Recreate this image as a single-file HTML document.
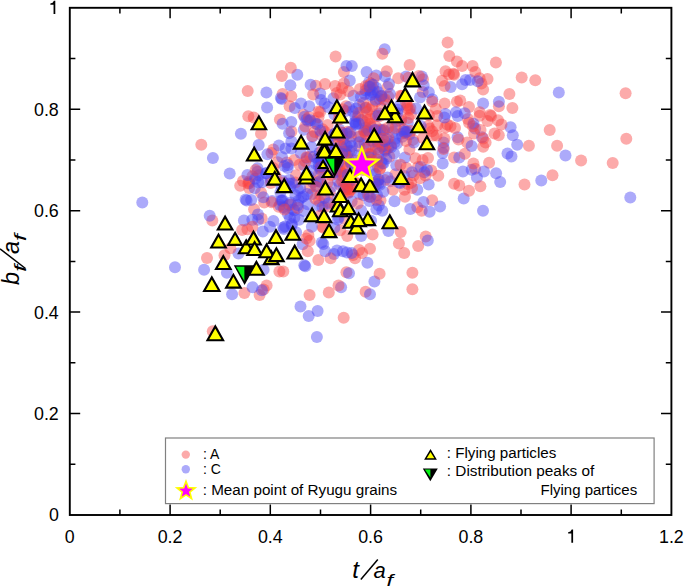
<!DOCTYPE html>
<html><head><meta charset="utf-8"><title>Scatter</title>
<style>html,body{margin:0;padding:0;background:#fff;}svg{display:block;}text{font-family:"Liberation Sans",sans-serif;fill:#000;}</style></head><body>
<svg width="685" height="587" viewBox="0 0 685 587">
<rect width="685" height="587" fill="#fff"/>
<g fill-opacity="0.45">
<circle cx="425.7" cy="236.4" r="6.0" fill="rgb(248,66,66)"/>
<circle cx="365.6" cy="90.4" r="6.0" fill="rgb(70,66,244)"/>
<circle cx="314.6" cy="120.9" r="6.0" fill="rgb(248,66,66)"/>
<circle cx="224.5" cy="255.2" r="6.0" fill="rgb(248,66,66)"/>
<circle cx="308.0" cy="121.0" r="6.0" fill="rgb(70,66,244)"/>
<circle cx="284.3" cy="207.9" r="6.0" fill="rgb(70,66,244)"/>
<circle cx="365.9" cy="107.6" r="6.0" fill="rgb(248,66,66)"/>
<circle cx="345.7" cy="110.9" r="6.0" fill="rgb(70,66,244)"/>
<circle cx="376.3" cy="87.8" r="6.0" fill="rgb(70,66,244)"/>
<circle cx="366.8" cy="130.9" r="6.0" fill="rgb(248,66,66)"/>
<circle cx="400.4" cy="95.7" r="6.0" fill="rgb(248,66,66)"/>
<circle cx="369.0" cy="82.4" r="6.0" fill="rgb(70,66,244)"/>
<circle cx="509.4" cy="93.9" r="6.0" fill="rgb(248,66,66)"/>
<circle cx="475.1" cy="168.8" r="6.0" fill="rgb(248,66,66)"/>
<circle cx="355.1" cy="121.8" r="6.0" fill="rgb(70,66,244)"/>
<circle cx="365.4" cy="107.9" r="6.0" fill="rgb(70,66,244)"/>
<circle cx="379.5" cy="98.9" r="6.0" fill="rgb(70,66,244)"/>
<circle cx="349.2" cy="151.0" r="6.0" fill="rgb(248,66,66)"/>
<circle cx="422.7" cy="91.9" r="6.0" fill="rgb(248,66,66)"/>
<circle cx="337.5" cy="198.4" r="6.0" fill="rgb(70,66,244)"/>
<circle cx="317.5" cy="158.5" r="6.0" fill="rgb(70,66,244)"/>
<circle cx="270.8" cy="179.1" r="6.0" fill="rgb(70,66,244)"/>
<circle cx="467.2" cy="142.5" r="6.0" fill="rgb(248,66,66)"/>
<circle cx="313.0" cy="182.3" r="6.0" fill="rgb(70,66,244)"/>
<circle cx="238.5" cy="253.4" r="6.0" fill="rgb(70,66,244)"/>
<circle cx="262.8" cy="231.4" r="6.0" fill="rgb(70,66,244)"/>
<circle cx="271.5" cy="153.0" r="6.0" fill="rgb(248,66,66)"/>
<circle cx="266.4" cy="92.5" r="6.0" fill="rgb(70,66,244)"/>
<circle cx="351.0" cy="136.4" r="6.0" fill="rgb(248,66,66)"/>
<circle cx="353.5" cy="95.7" r="6.0" fill="rgb(70,66,244)"/>
<circle cx="254.1" cy="209.2" r="6.0" fill="rgb(248,66,66)"/>
<circle cx="297.3" cy="74.7" r="6.0" fill="rgb(70,66,244)"/>
<circle cx="435.8" cy="108.8" r="6.0" fill="rgb(248,66,66)"/>
<circle cx="310.1" cy="156.5" r="6.0" fill="rgb(248,66,66)"/>
<circle cx="401.8" cy="133.5" r="6.0" fill="rgb(70,66,244)"/>
<circle cx="365.7" cy="127.7" r="6.0" fill="rgb(70,66,244)"/>
<circle cx="377.8" cy="166.8" r="6.0" fill="rgb(248,66,66)"/>
<circle cx="344.9" cy="219.1" r="6.0" fill="rgb(248,66,66)"/>
<circle cx="404.8" cy="133.0" r="6.0" fill="rgb(248,66,66)"/>
<circle cx="378.2" cy="180.0" r="6.0" fill="rgb(248,66,66)"/>
<circle cx="370.6" cy="154.4" r="6.0" fill="rgb(248,66,66)"/>
<circle cx="381.2" cy="161.8" r="6.0" fill="rgb(70,66,244)"/>
<circle cx="340.5" cy="171.7" r="6.0" fill="rgb(248,66,66)"/>
<circle cx="401.0" cy="121.0" r="6.0" fill="rgb(248,66,66)"/>
<circle cx="369.7" cy="109.5" r="6.0" fill="rgb(248,66,66)"/>
<circle cx="369.7" cy="90.1" r="6.0" fill="rgb(70,66,244)"/>
<circle cx="479.6" cy="115.8" r="6.0" fill="rgb(248,66,66)"/>
<circle cx="373.5" cy="89.3" r="6.0" fill="rgb(248,66,66)"/>
<circle cx="290.4" cy="85.2" r="6.0" fill="rgb(70,66,244)"/>
<circle cx="364.4" cy="130.7" r="6.0" fill="rgb(70,66,244)"/>
<circle cx="304.1" cy="165.3" r="6.0" fill="rgb(70,66,244)"/>
<circle cx="360.4" cy="136.4" r="6.0" fill="rgb(70,66,244)"/>
<circle cx="384.7" cy="149.8" r="6.0" fill="rgb(70,66,244)"/>
<circle cx="296.1" cy="232.2" r="6.0" fill="rgb(70,66,244)"/>
<circle cx="483.1" cy="103.6" r="6.0" fill="rgb(70,66,244)"/>
<circle cx="359.6" cy="193.9" r="6.0" fill="rgb(70,66,244)"/>
<circle cx="322.6" cy="129.3" r="6.0" fill="rgb(248,66,66)"/>
<circle cx="462.1" cy="84.3" r="6.0" fill="rgb(70,66,244)"/>
<circle cx="365.6" cy="148.1" r="6.0" fill="rgb(70,66,244)"/>
<circle cx="259.6" cy="295.1" r="6.0" fill="rgb(248,66,66)"/>
<circle cx="322.4" cy="226.7" r="6.0" fill="rgb(248,66,66)"/>
<circle cx="385.1" cy="151.1" r="6.0" fill="rgb(70,66,244)"/>
<circle cx="212.3" cy="220.4" r="6.0" fill="rgb(248,66,66)"/>
<circle cx="327.7" cy="124.9" r="6.0" fill="rgb(248,66,66)"/>
<circle cx="444.6" cy="103.6" r="6.0" fill="rgb(248,66,66)"/>
<circle cx="367.8" cy="194.3" r="6.0" fill="rgb(248,66,66)"/>
<circle cx="294.4" cy="210.2" r="6.0" fill="rgb(70,66,244)"/>
<circle cx="383.8" cy="100.0" r="6.0" fill="rgb(70,66,244)"/>
<circle cx="340.3" cy="146.0" r="6.0" fill="rgb(248,66,66)"/>
<circle cx="318.5" cy="162.5" r="6.0" fill="rgb(70,66,244)"/>
<circle cx="261.1" cy="192.8" r="6.0" fill="rgb(248,66,66)"/>
<circle cx="407.8" cy="122.8" r="6.0" fill="rgb(70,66,244)"/>
<circle cx="302.6" cy="244.3" r="6.0" fill="rgb(70,66,244)"/>
<circle cx="552.5" cy="175.3" r="6.0" fill="rgb(248,66,66)"/>
<circle cx="315.8" cy="123.7" r="6.0" fill="rgb(70,66,244)"/>
<circle cx="320.2" cy="112.0" r="6.0" fill="rgb(248,66,66)"/>
<circle cx="407.1" cy="108.4" r="6.0" fill="rgb(248,66,66)"/>
<circle cx="467.9" cy="119.1" r="6.0" fill="rgb(248,66,66)"/>
<circle cx="369.4" cy="201.0" r="6.0" fill="rgb(70,66,244)"/>
<circle cx="318.9" cy="201.0" r="6.0" fill="rgb(248,66,66)"/>
<circle cx="380.5" cy="200.3" r="6.0" fill="rgb(248,66,66)"/>
<circle cx="346.0" cy="106.2" r="6.0" fill="rgb(248,66,66)"/>
<circle cx="279.4" cy="271.5" r="6.0" fill="rgb(248,66,66)"/>
<circle cx="307.8" cy="251.3" r="6.0" fill="rgb(248,66,66)"/>
<circle cx="431.3" cy="170.5" r="6.0" fill="rgb(248,66,66)"/>
<circle cx="283.9" cy="229.0" r="6.0" fill="rgb(70,66,244)"/>
<circle cx="395.0" cy="112.8" r="6.0" fill="rgb(248,66,66)"/>
<circle cx="308.4" cy="234.9" r="6.0" fill="rgb(248,66,66)"/>
<circle cx="364.6" cy="143.6" r="6.0" fill="rgb(70,66,244)"/>
<circle cx="258.7" cy="175.2" r="6.0" fill="rgb(70,66,244)"/>
<circle cx="373.0" cy="170.1" r="6.0" fill="rgb(70,66,244)"/>
<circle cx="409.4" cy="134.6" r="6.0" fill="rgb(70,66,244)"/>
<circle cx="283.3" cy="206.9" r="6.0" fill="rgb(70,66,244)"/>
<circle cx="498.9" cy="106.2" r="6.0" fill="rgb(248,66,66)"/>
<circle cx="470.0" cy="80.0" r="6.0" fill="rgb(70,66,244)"/>
<circle cx="392.8" cy="132.0" r="6.0" fill="rgb(70,66,244)"/>
<circle cx="264.2" cy="202.4" r="6.0" fill="rgb(248,66,66)"/>
<circle cx="356.4" cy="182.9" r="6.0" fill="rgb(248,66,66)"/>
<circle cx="346.4" cy="272.3" r="6.0" fill="rgb(248,66,66)"/>
<circle cx="379.5" cy="169.2" r="6.0" fill="rgb(248,66,66)"/>
<circle cx="475.1" cy="128.5" r="6.0" fill="rgb(70,66,244)"/>
<circle cx="401.4" cy="119.0" r="6.0" fill="rgb(248,66,66)"/>
<circle cx="347.2" cy="236.0" r="6.0" fill="rgb(248,66,66)"/>
<circle cx="343.9" cy="72.0" r="6.0" fill="rgb(248,66,66)"/>
<circle cx="483.0" cy="210.8" r="6.0" fill="rgb(70,66,244)"/>
<circle cx="355.4" cy="116.0" r="6.0" fill="rgb(70,66,244)"/>
<circle cx="322.4" cy="206.9" r="6.0" fill="rgb(70,66,244)"/>
<circle cx="390.4" cy="181.2" r="6.0" fill="rgb(70,66,244)"/>
<circle cx="303.8" cy="129.7" r="6.0" fill="rgb(70,66,244)"/>
<circle cx="377.0" cy="195.0" r="6.0" fill="rgb(70,66,244)"/>
<circle cx="204.1" cy="269.8" r="6.0" fill="rgb(70,66,244)"/>
<circle cx="507.5" cy="153.6" r="6.0" fill="rgb(70,66,244)"/>
<circle cx="342.5" cy="176.0" r="6.0" fill="rgb(70,66,244)"/>
<circle cx="374.4" cy="281.4" r="6.0" fill="rgb(70,66,244)"/>
<circle cx="354.8" cy="160.2" r="6.0" fill="rgb(248,66,66)"/>
<circle cx="391.2" cy="146.9" r="6.0" fill="rgb(70,66,244)"/>
<circle cx="429.6" cy="128.5" r="6.0" fill="rgb(248,66,66)"/>
<circle cx="273.3" cy="168.1" r="6.0" fill="rgb(248,66,66)"/>
<circle cx="432.1" cy="131.3" r="6.0" fill="rgb(248,66,66)"/>
<circle cx="437.1" cy="125.2" r="6.0" fill="rgb(248,66,66)"/>
<circle cx="315.8" cy="85.7" r="6.0" fill="rgb(248,66,66)"/>
<circle cx="413.0" cy="139.7" r="6.0" fill="rgb(248,66,66)"/>
<circle cx="541.3" cy="180.5" r="6.0" fill="rgb(70,66,244)"/>
<circle cx="334.0" cy="254.0" r="6.0" fill="rgb(70,66,244)"/>
<circle cx="471.6" cy="169.7" r="6.0" fill="rgb(70,66,244)"/>
<circle cx="310.6" cy="84.7" r="6.0" fill="rgb(70,66,244)"/>
<circle cx="301.4" cy="197.5" r="6.0" fill="rgb(70,66,244)"/>
<circle cx="303.5" cy="114.8" r="6.0" fill="rgb(248,66,66)"/>
<circle cx="320.9" cy="134.8" r="6.0" fill="rgb(248,66,66)"/>
<circle cx="272.1" cy="200.9" r="6.0" fill="rgb(70,66,244)"/>
<circle cx="388.4" cy="96.7" r="6.0" fill="rgb(248,66,66)"/>
<circle cx="395.4" cy="174.2" r="6.0" fill="rgb(248,66,66)"/>
<circle cx="381.4" cy="96.7" r="6.0" fill="rgb(248,66,66)"/>
<circle cx="428.7" cy="184.6" r="6.0" fill="rgb(70,66,244)"/>
<circle cx="421.7" cy="210.8" r="6.0" fill="rgb(248,66,66)"/>
<circle cx="404.3" cy="176.0" r="6.0" fill="rgb(70,66,244)"/>
<circle cx="396.3" cy="165.3" r="6.0" fill="rgb(70,66,244)"/>
<circle cx="456.9" cy="101.8" r="6.0" fill="rgb(248,66,66)"/>
<circle cx="388.2" cy="147.9" r="6.0" fill="rgb(70,66,244)"/>
<circle cx="382.3" cy="210.8" r="6.0" fill="rgb(70,66,244)"/>
<circle cx="359.4" cy="146.3" r="6.0" fill="rgb(248,66,66)"/>
<circle cx="384.3" cy="145.1" r="6.0" fill="rgb(248,66,66)"/>
<circle cx="400.7" cy="232.0" r="6.0" fill="rgb(248,66,66)"/>
<circle cx="557.1" cy="145.7" r="6.0" fill="rgb(248,66,66)"/>
<circle cx="406.3" cy="167.8" r="6.0" fill="rgb(248,66,66)"/>
<circle cx="315.6" cy="163.8" r="6.0" fill="rgb(70,66,244)"/>
<circle cx="510.6" cy="127.2" r="6.0" fill="rgb(70,66,244)"/>
<circle cx="286.7" cy="162.4" r="6.0" fill="rgb(248,66,66)"/>
<circle cx="365.8" cy="134.3" r="6.0" fill="rgb(248,66,66)"/>
<circle cx="321.0" cy="182.2" r="6.0" fill="rgb(70,66,244)"/>
<circle cx="423.0" cy="79.3" r="6.0" fill="rgb(248,66,66)"/>
<circle cx="341.5" cy="146.8" r="6.0" fill="rgb(70,66,244)"/>
<circle cx="339.7" cy="184.8" r="6.0" fill="rgb(248,66,66)"/>
<circle cx="343.7" cy="317.8" r="6.0" fill="rgb(248,66,66)"/>
<circle cx="418.0" cy="167.1" r="6.0" fill="rgb(248,66,66)"/>
<circle cx="261.7" cy="218.5" r="6.0" fill="rgb(248,66,66)"/>
<circle cx="462.1" cy="65.9" r="6.0" fill="rgb(248,66,66)"/>
<circle cx="356.9" cy="184.0" r="6.0" fill="rgb(248,66,66)"/>
<circle cx="281.4" cy="186.1" r="6.0" fill="rgb(70,66,244)"/>
<circle cx="392.8" cy="189.8" r="6.0" fill="rgb(248,66,66)"/>
<circle cx="282.2" cy="180.8" r="6.0" fill="rgb(70,66,244)"/>
<circle cx="410.6" cy="131.1" r="6.0" fill="rgb(248,66,66)"/>
<circle cx="298.0" cy="189.8" r="6.0" fill="rgb(70,66,244)"/>
<circle cx="207.0" cy="258.1" r="6.0" fill="rgb(248,66,66)"/>
<circle cx="324.5" cy="140.8" r="6.0" fill="rgb(70,66,244)"/>
<circle cx="336.3" cy="136.6" r="6.0" fill="rgb(248,66,66)"/>
<circle cx="324.7" cy="131.7" r="6.0" fill="rgb(248,66,66)"/>
<circle cx="277.7" cy="162.3" r="6.0" fill="rgb(248,66,66)"/>
<circle cx="454.1" cy="157.4" r="6.0" fill="rgb(248,66,66)"/>
<circle cx="281.0" cy="200.4" r="6.0" fill="rgb(70,66,244)"/>
<circle cx="296.0" cy="175.2" r="6.0" fill="rgb(248,66,66)"/>
<circle cx="347.6" cy="189.2" r="6.0" fill="rgb(248,66,66)"/>
<circle cx="483.1" cy="89.6" r="6.0" fill="rgb(248,66,66)"/>
<circle cx="305.3" cy="126.4" r="6.0" fill="rgb(248,66,66)"/>
<circle cx="498.8" cy="135.2" r="6.0" fill="rgb(248,66,66)"/>
<circle cx="558.8" cy="92.5" r="6.0" fill="rgb(70,66,244)"/>
<circle cx="630.3" cy="197.4" r="6.0" fill="rgb(70,66,244)"/>
<circle cx="330.6" cy="258.3" r="6.0" fill="rgb(248,66,66)"/>
<circle cx="355.1" cy="258.3" r="6.0" fill="rgb(248,66,66)"/>
<circle cx="351.8" cy="65.9" r="6.0" fill="rgb(70,66,244)"/>
<circle cx="395.4" cy="138.7" r="6.0" fill="rgb(70,66,244)"/>
<circle cx="362.1" cy="253.0" r="6.0" fill="rgb(248,66,66)"/>
<circle cx="443.6" cy="147.8" r="6.0" fill="rgb(70,66,244)"/>
<circle cx="465.6" cy="79.9" r="6.0" fill="rgb(70,66,244)"/>
<circle cx="432.2" cy="200.3" r="6.0" fill="rgb(248,66,66)"/>
<circle cx="512.8" cy="135.2" r="6.0" fill="rgb(70,66,244)"/>
<circle cx="318.5" cy="117.2" r="6.0" fill="rgb(248,66,66)"/>
<circle cx="263.6" cy="289.6" r="6.0" fill="rgb(248,66,66)"/>
<circle cx="348.8" cy="181.9" r="6.0" fill="rgb(248,66,66)"/>
<circle cx="494.5" cy="133.4" r="6.0" fill="rgb(248,66,66)"/>
<circle cx="453.4" cy="73.8" r="6.0" fill="rgb(248,66,66)"/>
<circle cx="275.7" cy="175.7" r="6.0" fill="rgb(248,66,66)"/>
<circle cx="433.2" cy="135.4" r="6.0" fill="rgb(248,66,66)"/>
<circle cx="378.9" cy="113.5" r="6.0" fill="rgb(70,66,244)"/>
<circle cx="438.3" cy="175.8" r="6.0" fill="rgb(248,66,66)"/>
<circle cx="288.8" cy="204.7" r="6.0" fill="rgb(70,66,244)"/>
<circle cx="428.2" cy="126.0" r="6.0" fill="rgb(248,66,66)"/>
<circle cx="363.5" cy="195.2" r="6.0" fill="rgb(70,66,244)"/>
<circle cx="329.8" cy="191.9" r="6.0" fill="rgb(248,66,66)"/>
<circle cx="385.0" cy="76.4" r="6.0" fill="rgb(70,66,244)"/>
<circle cx="294.4" cy="217.4" r="6.0" fill="rgb(70,66,244)"/>
<circle cx="406.1" cy="76.4" r="6.0" fill="rgb(70,66,244)"/>
<circle cx="372.2" cy="106.2" r="6.0" fill="rgb(248,66,66)"/>
<circle cx="403.6" cy="129.4" r="6.0" fill="rgb(248,66,66)"/>
<circle cx="496.1" cy="173.2" r="6.0" fill="rgb(70,66,244)"/>
<circle cx="428.9" cy="115.3" r="6.0" fill="rgb(248,66,66)"/>
<circle cx="324.8" cy="207.1" r="6.0" fill="rgb(248,66,66)"/>
<circle cx="376.5" cy="159.1" r="6.0" fill="rgb(70,66,244)"/>
<circle cx="472.6" cy="65.9" r="6.0" fill="rgb(248,66,66)"/>
<circle cx="320.8" cy="170.2" r="6.0" fill="rgb(70,66,244)"/>
<circle cx="319.7" cy="152.5" r="6.0" fill="rgb(70,66,244)"/>
<circle cx="282.0" cy="157.1" r="6.0" fill="rgb(70,66,244)"/>
<circle cx="320.4" cy="159.0" r="6.0" fill="rgb(70,66,244)"/>
<circle cx="358.0" cy="116.5" r="6.0" fill="rgb(248,66,66)"/>
<circle cx="381.1" cy="96.1" r="6.0" fill="rgb(248,66,66)"/>
<circle cx="473.0" cy="126.2" r="6.0" fill="rgb(248,66,66)"/>
<circle cx="249.0" cy="181.7" r="6.0" fill="rgb(248,66,66)"/>
<circle cx="490.1" cy="115.0" r="6.0" fill="rgb(248,66,66)"/>
<circle cx="376.1" cy="147.8" r="6.0" fill="rgb(70,66,244)"/>
<circle cx="381.2" cy="130.4" r="6.0" fill="rgb(70,66,244)"/>
<circle cx="358.7" cy="136.6" r="6.0" fill="rgb(248,66,66)"/>
<circle cx="329.5" cy="145.4" r="6.0" fill="rgb(248,66,66)"/>
<circle cx="371.0" cy="153.0" r="6.0" fill="rgb(248,66,66)"/>
<circle cx="489.1" cy="162.7" r="6.0" fill="rgb(248,66,66)"/>
<circle cx="295.4" cy="182.5" r="6.0" fill="rgb(248,66,66)"/>
<circle cx="362.6" cy="162.7" r="6.0" fill="rgb(70,66,244)"/>
<circle cx="427.0" cy="170.0" r="6.0" fill="rgb(70,66,244)"/>
<circle cx="445.5" cy="114.0" r="6.0" fill="rgb(70,66,244)"/>
<circle cx="384.9" cy="180.1" r="6.0" fill="rgb(248,66,66)"/>
<circle cx="273.3" cy="149.5" r="6.0" fill="rgb(248,66,66)"/>
<circle cx="408.0" cy="183.9" r="6.0" fill="rgb(248,66,66)"/>
<circle cx="320.2" cy="93.4" r="6.0" fill="rgb(70,66,244)"/>
<circle cx="278.7" cy="206.7" r="6.0" fill="rgb(248,66,66)"/>
<circle cx="267.1" cy="107.6" r="6.0" fill="rgb(70,66,244)"/>
<circle cx="248.2" cy="183.4" r="6.0" fill="rgb(248,66,66)"/>
<circle cx="385.8" cy="149.5" r="6.0" fill="rgb(248,66,66)"/>
<circle cx="291.4" cy="141.4" r="6.0" fill="rgb(70,66,244)"/>
<circle cx="405.0" cy="157.4" r="6.0" fill="rgb(70,66,244)"/>
<circle cx="362.0" cy="120.0" r="6.0" fill="rgb(70,66,244)"/>
<circle cx="328.2" cy="143.1" r="6.0" fill="rgb(70,66,244)"/>
<circle cx="353.0" cy="255.0" r="6.0" fill="rgb(248,66,66)"/>
<circle cx="313.2" cy="94.4" r="6.0" fill="rgb(248,66,66)"/>
<circle cx="280.0" cy="205.0" r="6.0" fill="rgb(70,66,244)"/>
<circle cx="304.5" cy="116.7" r="6.0" fill="rgb(70,66,244)"/>
<circle cx="345.5" cy="167.0" r="6.0" fill="rgb(248,66,66)"/>
<circle cx="377.8" cy="143.1" r="6.0" fill="rgb(70,66,244)"/>
<circle cx="300.5" cy="306.5" r="6.0" fill="rgb(70,66,244)"/>
<circle cx="410.9" cy="114.3" r="6.0" fill="rgb(248,66,66)"/>
<circle cx="344.6" cy="151.5" r="6.0" fill="rgb(248,66,66)"/>
<circle cx="320.9" cy="168.9" r="6.0" fill="rgb(70,66,244)"/>
<circle cx="283.5" cy="182.6" r="6.0" fill="rgb(248,66,66)"/>
<circle cx="394.5" cy="201.2" r="6.0" fill="rgb(70,66,244)"/>
<circle cx="342.9" cy="139.3" r="6.0" fill="rgb(70,66,244)"/>
<circle cx="349.8" cy="181.3" r="6.0" fill="rgb(70,66,244)"/>
<circle cx="337.8" cy="219.7" r="6.0" fill="rgb(70,66,244)"/>
<circle cx="346.7" cy="168.2" r="6.0" fill="rgb(248,66,66)"/>
<circle cx="368.8" cy="161.8" r="6.0" fill="rgb(70,66,244)"/>
<circle cx="328.8" cy="202.2" r="6.0" fill="rgb(248,66,66)"/>
<circle cx="258.2" cy="219.7" r="6.0" fill="rgb(70,66,244)"/>
<circle cx="245.6" cy="199.4" r="6.0" fill="rgb(70,66,244)"/>
<circle cx="307.5" cy="204.2" r="6.0" fill="rgb(70,66,244)"/>
<circle cx="271.6" cy="202.2" r="6.0" fill="rgb(248,66,66)"/>
<circle cx="389.3" cy="156.5" r="6.0" fill="rgb(248,66,66)"/>
<circle cx="380.2" cy="129.4" r="6.0" fill="rgb(70,66,244)"/>
<circle cx="397.4" cy="112.9" r="6.0" fill="rgb(70,66,244)"/>
<circle cx="244.4" cy="293.1" r="6.0" fill="rgb(248,66,66)"/>
<circle cx="382.3" cy="146.5" r="6.0" fill="rgb(70,66,244)"/>
<circle cx="291.8" cy="223.9" r="6.0" fill="rgb(70,66,244)"/>
<circle cx="612.7" cy="163.0" r="6.0" fill="rgb(248,66,66)"/>
<circle cx="365.6" cy="291.8" r="6.0" fill="rgb(248,66,66)"/>
<circle cx="349.0" cy="107.0" r="6.0" fill="rgb(70,66,244)"/>
<circle cx="349.0" cy="273.2" r="6.0" fill="rgb(70,66,244)"/>
<circle cx="321.8" cy="242.5" r="6.0" fill="rgb(70,66,244)"/>
<circle cx="270.7" cy="183.1" r="6.0" fill="rgb(248,66,66)"/>
<circle cx="475.3" cy="72.0" r="6.0" fill="rgb(248,66,66)"/>
<circle cx="318.3" cy="260.0" r="6.0" fill="rgb(248,66,66)"/>
<circle cx="230.4" cy="248.2" r="6.0" fill="rgb(248,66,66)"/>
<circle cx="346.5" cy="65.9" r="6.0" fill="rgb(70,66,244)"/>
<circle cx="247.4" cy="229.2" r="6.0" fill="rgb(248,66,66)"/>
<circle cx="306.5" cy="119.6" r="6.0" fill="rgb(70,66,244)"/>
<circle cx="280.4" cy="192.4" r="6.0" fill="rgb(70,66,244)"/>
<circle cx="281.8" cy="99.0" r="6.0" fill="rgb(70,66,244)"/>
<circle cx="283.3" cy="271.4" r="6.0" fill="rgb(248,66,66)"/>
<circle cx="335.7" cy="148.9" r="6.0" fill="rgb(70,66,244)"/>
<circle cx="361.2" cy="210.4" r="6.0" fill="rgb(70,66,244)"/>
<circle cx="473.5" cy="123.7" r="6.0" fill="rgb(70,66,244)"/>
<circle cx="383.4" cy="191.7" r="6.0" fill="rgb(70,66,244)"/>
<circle cx="447.2" cy="124.6" r="6.0" fill="rgb(248,66,66)"/>
<circle cx="290.0" cy="218.0" r="6.0" fill="rgb(70,66,244)"/>
<circle cx="400.1" cy="104.9" r="6.0" fill="rgb(70,66,244)"/>
<circle cx="298.6" cy="200.5" r="6.0" fill="rgb(70,66,244)"/>
<circle cx="229.7" cy="173.6" r="6.0" fill="rgb(70,66,244)"/>
<circle cx="474.0" cy="133.4" r="6.0" fill="rgb(248,66,66)"/>
<circle cx="408.4" cy="118.1" r="6.0" fill="rgb(248,66,66)"/>
<circle cx="212.9" cy="158.0" r="6.0" fill="rgb(70,66,244)"/>
<circle cx="378.2" cy="144.3" r="6.0" fill="rgb(248,66,66)"/>
<circle cx="392.0" cy="127.7" r="6.0" fill="rgb(70,66,244)"/>
<circle cx="312.4" cy="136.7" r="6.0" fill="rgb(70,66,244)"/>
<circle cx="396.9" cy="143.4" r="6.0" fill="rgb(70,66,244)"/>
<circle cx="469.0" cy="107.0" r="6.0" fill="rgb(248,66,66)"/>
<circle cx="309.6" cy="295.1" r="6.0" fill="rgb(248,66,66)"/>
<circle cx="378.8" cy="205.6" r="6.0" fill="rgb(70,66,244)"/>
<circle cx="382.7" cy="129.8" r="6.0" fill="rgb(248,66,66)"/>
<circle cx="341.1" cy="287.2" r="6.0" fill="rgb(70,66,244)"/>
<circle cx="342.1" cy="88.0" r="6.0" fill="rgb(248,66,66)"/>
<circle cx="337.3" cy="169.4" r="6.0" fill="rgb(248,66,66)"/>
<circle cx="487.5" cy="79.0" r="6.0" fill="rgb(248,66,66)"/>
<circle cx="317.6" cy="310.9" r="6.0" fill="rgb(70,66,244)"/>
<circle cx="521.7" cy="77.6" r="6.0" fill="rgb(248,66,66)"/>
<circle cx="396.8" cy="121.3" r="6.0" fill="rgb(70,66,244)"/>
<circle cx="336.6" cy="174.1" r="6.0" fill="rgb(248,66,66)"/>
<circle cx="226.9" cy="272.7" r="6.0" fill="rgb(70,66,244)"/>
<circle cx="386.4" cy="158.7" r="6.0" fill="rgb(70,66,244)"/>
<circle cx="279.9" cy="119.4" r="6.0" fill="rgb(248,66,66)"/>
<circle cx="282.0" cy="200.7" r="6.0" fill="rgb(70,66,244)"/>
<circle cx="371.5" cy="127.0" r="6.0" fill="rgb(70,66,244)"/>
<circle cx="459.3" cy="157.4" r="6.0" fill="rgb(70,66,244)"/>
<circle cx="299.6" cy="164.7" r="6.0" fill="rgb(248,66,66)"/>
<circle cx="370.6" cy="140.6" r="6.0" fill="rgb(248,66,66)"/>
<circle cx="282.7" cy="200.3" r="6.0" fill="rgb(70,66,244)"/>
<circle cx="351.6" cy="151.0" r="6.0" fill="rgb(70,66,244)"/>
<circle cx="368.4" cy="130.0" r="6.0" fill="rgb(70,66,244)"/>
<circle cx="249.3" cy="183.2" r="6.0" fill="rgb(248,66,66)"/>
<circle cx="282.6" cy="94.0" r="6.0" fill="rgb(248,66,66)"/>
<circle cx="368.4" cy="153.9" r="6.0" fill="rgb(248,66,66)"/>
<circle cx="284.4" cy="165.9" r="6.0" fill="rgb(70,66,244)"/>
<circle cx="479.6" cy="78.2" r="6.0" fill="rgb(248,66,66)"/>
<circle cx="257.5" cy="168.2" r="6.0" fill="rgb(70,66,244)"/>
<circle cx="495.9" cy="62.4" r="6.0" fill="rgb(248,66,66)"/>
<circle cx="479.7" cy="112.2" r="6.0" fill="rgb(248,66,66)"/>
<circle cx="381.5" cy="108.3" r="6.0" fill="rgb(248,66,66)"/>
<circle cx="252.4" cy="176.2" r="6.0" fill="rgb(248,66,66)"/>
<circle cx="415.5" cy="158.3" r="6.0" fill="rgb(248,66,66)"/>
<circle cx="266.6" cy="285.5" r="6.0" fill="rgb(248,66,66)"/>
<circle cx="390.7" cy="145.3" r="6.0" fill="rgb(248,66,66)"/>
<circle cx="248.3" cy="116.3" r="6.0" fill="rgb(248,66,66)"/>
<circle cx="338.0" cy="181.0" r="6.0" fill="rgb(70,66,244)"/>
<circle cx="481.4" cy="83.4" r="6.0" fill="rgb(248,66,66)"/>
<circle cx="304.3" cy="265.3" r="6.0" fill="rgb(70,66,244)"/>
<circle cx="394.5" cy="142.5" r="6.0" fill="rgb(70,66,244)"/>
<circle cx="265.9" cy="173.3" r="6.0" fill="rgb(70,66,244)"/>
<circle cx="535.3" cy="80.3" r="6.0" fill="rgb(248,66,66)"/>
<circle cx="355.8" cy="124.8" r="6.0" fill="rgb(70,66,244)"/>
<circle cx="428.0" cy="158.0" r="6.0" fill="rgb(248,66,66)"/>
<circle cx="175.0" cy="267.3" r="6.0" fill="rgb(70,66,244)"/>
<circle cx="376.0" cy="126.8" r="6.0" fill="rgb(248,66,66)"/>
<circle cx="340.5" cy="136.7" r="6.0" fill="rgb(248,66,66)"/>
<circle cx="417.3" cy="189.8" r="6.0" fill="rgb(70,66,244)"/>
<circle cx="403.8" cy="131.5" r="6.0" fill="rgb(70,66,244)"/>
<circle cx="289.0" cy="183.4" r="6.0" fill="rgb(70,66,244)"/>
<circle cx="400.5" cy="164.7" r="6.0" fill="rgb(248,66,66)"/>
<circle cx="454.1" cy="74.8" r="6.0" fill="rgb(248,66,66)"/>
<circle cx="376.4" cy="199.9" r="6.0" fill="rgb(248,66,66)"/>
<circle cx="289.6" cy="106.2" r="6.0" fill="rgb(248,66,66)"/>
<circle cx="625.6" cy="93.3" r="6.0" fill="rgb(248,66,66)"/>
<circle cx="328.1" cy="107.0" r="6.0" fill="rgb(70,66,244)"/>
<circle cx="417.3" cy="207.3" r="6.0" fill="rgb(248,66,66)"/>
<circle cx="321.1" cy="100.0" r="6.0" fill="rgb(70,66,244)"/>
<circle cx="383.5" cy="163.2" r="6.0" fill="rgb(70,66,244)"/>
<circle cx="463.7" cy="198.6" r="6.0" fill="rgb(70,66,244)"/>
<circle cx="346.6" cy="187.0" r="6.0" fill="rgb(70,66,244)"/>
<circle cx="324.4" cy="198.0" r="6.0" fill="rgb(70,66,244)"/>
<circle cx="367.5" cy="119.8" r="6.0" fill="rgb(248,66,66)"/>
<circle cx="411.2" cy="182.8" r="6.0" fill="rgb(248,66,66)"/>
<circle cx="398.9" cy="182.6" r="6.0" fill="rgb(70,66,244)"/>
<circle cx="325.0" cy="84.0" r="6.0" fill="rgb(248,66,66)"/>
<circle cx="328.5" cy="203.4" r="6.0" fill="rgb(70,66,244)"/>
<circle cx="301.0" cy="103.6" r="6.0" fill="rgb(70,66,244)"/>
<circle cx="309.0" cy="117.0" r="6.0" fill="rgb(248,66,66)"/>
<circle cx="309.2" cy="106.2" r="6.0" fill="rgb(70,66,244)"/>
<circle cx="344.8" cy="144.5" r="6.0" fill="rgb(248,66,66)"/>
<circle cx="348.6" cy="91.3" r="6.0" fill="rgb(248,66,66)"/>
<circle cx="498.9" cy="101.8" r="6.0" fill="rgb(70,66,244)"/>
<circle cx="321.4" cy="162.6" r="6.0" fill="rgb(70,66,244)"/>
<circle cx="483.2" cy="146.7" r="6.0" fill="rgb(248,66,66)"/>
<circle cx="335.4" cy="205.9" r="6.0" fill="rgb(248,66,66)"/>
<circle cx="349.8" cy="80.4" r="6.0" fill="rgb(70,66,244)"/>
<circle cx="443.6" cy="142.5" r="6.0" fill="rgb(70,66,244)"/>
<circle cx="375.8" cy="116.2" r="6.0" fill="rgb(248,66,66)"/>
<circle cx="517.2" cy="144.8" r="6.0" fill="rgb(70,66,244)"/>
<circle cx="359.2" cy="142.2" r="6.0" fill="rgb(70,66,244)"/>
<circle cx="312.2" cy="194.1" r="6.0" fill="rgb(70,66,244)"/>
<circle cx="427.8" cy="240.4" r="6.0" fill="rgb(70,66,244)"/>
<circle cx="440.1" cy="206.5" r="6.0" fill="rgb(70,66,244)"/>
<circle cx="450.7" cy="86.9" r="6.0" fill="rgb(70,66,244)"/>
<circle cx="317.3" cy="124.3" r="6.0" fill="rgb(70,66,244)"/>
<circle cx="373.1" cy="141.5" r="6.0" fill="rgb(70,66,244)"/>
<circle cx="328.8" cy="292.4" r="6.0" fill="rgb(248,66,66)"/>
<circle cx="457.6" cy="137.3" r="6.0" fill="rgb(70,66,244)"/>
<circle cx="410.4" cy="108.0" r="6.0" fill="rgb(248,66,66)"/>
<circle cx="491.1" cy="116.0" r="6.0" fill="rgb(248,66,66)"/>
<circle cx="252.3" cy="219.7" r="6.0" fill="rgb(70,66,244)"/>
<circle cx="299.0" cy="219.7" r="6.0" fill="rgb(70,66,244)"/>
<circle cx="247.7" cy="90.9" r="6.0" fill="rgb(248,66,66)"/>
<circle cx="308.7" cy="316.0" r="6.0" fill="rgb(70,66,244)"/>
<circle cx="416.1" cy="108.5" r="6.0" fill="rgb(70,66,244)"/>
<circle cx="317.4" cy="181.3" r="6.0" fill="rgb(248,66,66)"/>
<circle cx="324.6" cy="103.6" r="6.0" fill="rgb(70,66,244)"/>
<circle cx="340.2" cy="230.2" r="6.0" fill="rgb(248,66,66)"/>
<circle cx="445.3" cy="127.6" r="6.0" fill="rgb(248,66,66)"/>
<circle cx="370.0" cy="248.7" r="6.0" fill="rgb(248,66,66)"/>
<circle cx="450.5" cy="126.2" r="6.0" fill="rgb(248,66,66)"/>
<circle cx="340.0" cy="135.2" r="6.0" fill="rgb(70,66,244)"/>
<circle cx="371.1" cy="94.3" r="6.0" fill="rgb(70,66,244)"/>
<circle cx="348.0" cy="159.0" r="6.0" fill="rgb(248,66,66)"/>
<circle cx="388.4" cy="231.1" r="6.0" fill="rgb(70,66,244)"/>
<circle cx="340.0" cy="171.0" r="6.0" fill="rgb(248,66,66)"/>
<circle cx="359.0" cy="250.0" r="6.0" fill="rgb(248,66,66)"/>
<circle cx="283.2" cy="227.4" r="6.0" fill="rgb(70,66,244)"/>
<circle cx="318.8" cy="205.7" r="6.0" fill="rgb(70,66,244)"/>
<circle cx="249.1" cy="188.0" r="6.0" fill="rgb(248,66,66)"/>
<circle cx="323.4" cy="227.7" r="6.0" fill="rgb(248,66,66)"/>
<circle cx="356.0" cy="123.8" r="6.0" fill="rgb(70,66,244)"/>
<circle cx="338.7" cy="217.2" r="6.0" fill="rgb(70,66,244)"/>
<circle cx="252.6" cy="287.3" r="6.0" fill="rgb(70,66,244)"/>
<circle cx="469.0" cy="122.8" r="6.0" fill="rgb(248,66,66)"/>
<circle cx="273.4" cy="220.9" r="6.0" fill="rgb(70,66,244)"/>
<circle cx="318.5" cy="111.5" r="6.0" fill="rgb(248,66,66)"/>
<circle cx="464.7" cy="113.2" r="6.0" fill="rgb(70,66,244)"/>
<circle cx="387.7" cy="86.9" r="6.0" fill="rgb(248,66,66)"/>
<circle cx="364.3" cy="159.7" r="6.0" fill="rgb(70,66,244)"/>
<circle cx="501.5" cy="124.6" r="6.0" fill="rgb(248,66,66)"/>
<circle cx="376.5" cy="130.2" r="6.0" fill="rgb(248,66,66)"/>
<circle cx="377.5" cy="181.4" r="6.0" fill="rgb(248,66,66)"/>
<circle cx="257.6" cy="171.7" r="6.0" fill="rgb(70,66,244)"/>
<circle cx="398.2" cy="78.2" r="6.0" fill="rgb(248,66,66)"/>
<circle cx="201.3" cy="144.7" r="6.0" fill="rgb(248,66,66)"/>
<circle cx="309.9" cy="188.1" r="6.0" fill="rgb(248,66,66)"/>
<circle cx="347.0" cy="252.5" r="6.0" fill="rgb(70,66,244)"/>
<circle cx="348.4" cy="192.8" r="6.0" fill="rgb(248,66,66)"/>
<circle cx="428.8" cy="92.2" r="6.0" fill="rgb(70,66,244)"/>
<circle cx="386.8" cy="71.2" r="6.0" fill="rgb(248,66,66)"/>
<circle cx="378.5" cy="153.2" r="6.0" fill="rgb(70,66,244)"/>
<circle cx="142.3" cy="202.6" r="6.0" fill="rgb(70,66,244)"/>
<circle cx="263.2" cy="197.3" r="6.0" fill="rgb(70,66,244)"/>
<circle cx="420.8" cy="167.0" r="6.0" fill="rgb(70,66,244)"/>
<circle cx="339.2" cy="129.5" r="6.0" fill="rgb(70,66,244)"/>
<circle cx="402.3" cy="136.8" r="6.0" fill="rgb(70,66,244)"/>
<circle cx="412.4" cy="289.3" r="6.0" fill="rgb(248,66,66)"/>
<circle cx="359.2" cy="104.9" r="6.0" fill="rgb(70,66,244)"/>
<circle cx="335.6" cy="160.3" r="6.0" fill="rgb(70,66,244)"/>
<circle cx="292.1" cy="183.5" r="6.0" fill="rgb(70,66,244)"/>
<circle cx="395.4" cy="127.8" r="6.0" fill="rgb(248,66,66)"/>
<circle cx="482.1" cy="137.3" r="6.0" fill="rgb(70,66,244)"/>
<circle cx="287.9" cy="213.9" r="6.0" fill="rgb(70,66,244)"/>
<circle cx="355.0" cy="122.8" r="6.0" fill="rgb(70,66,244)"/>
<circle cx="243.0" cy="181.1" r="6.0" fill="rgb(248,66,66)"/>
<circle cx="346.4" cy="155.8" r="6.0" fill="rgb(248,66,66)"/>
<circle cx="364.3" cy="132.1" r="6.0" fill="rgb(248,66,66)"/>
<circle cx="294.4" cy="160.1" r="6.0" fill="rgb(248,66,66)"/>
<circle cx="291.4" cy="131.4" r="6.0" fill="rgb(248,66,66)"/>
<circle cx="369.0" cy="157.0" r="6.0" fill="rgb(70,66,244)"/>
<circle cx="347.1" cy="154.2" r="6.0" fill="rgb(70,66,244)"/>
<circle cx="331.2" cy="171.7" r="6.0" fill="rgb(248,66,66)"/>
<circle cx="348.5" cy="191.4" r="6.0" fill="rgb(248,66,66)"/>
<circle cx="363.2" cy="102.7" r="6.0" fill="rgb(248,66,66)"/>
<circle cx="407.2" cy="105.5" r="6.0" fill="rgb(248,66,66)"/>
<circle cx="405.3" cy="132.0" r="6.0" fill="rgb(70,66,244)"/>
<circle cx="413.5" cy="175.5" r="6.0" fill="rgb(248,66,66)"/>
<circle cx="311.5" cy="147.1" r="6.0" fill="rgb(70,66,244)"/>
<circle cx="405.0" cy="196.8" r="6.0" fill="rgb(248,66,66)"/>
<circle cx="306.3" cy="238.4" r="6.0" fill="rgb(248,66,66)"/>
<circle cx="348.7" cy="192.7" r="6.0" fill="rgb(248,66,66)"/>
<circle cx="457.7" cy="116.0" r="6.0" fill="rgb(70,66,244)"/>
<circle cx="303.4" cy="196.5" r="6.0" fill="rgb(70,66,244)"/>
<circle cx="335.1" cy="133.5" r="6.0" fill="rgb(70,66,244)"/>
<circle cx="351.6" cy="253.0" r="6.0" fill="rgb(70,66,244)"/>
<circle cx="388.5" cy="113.0" r="6.0" fill="rgb(70,66,244)"/>
<circle cx="372.6" cy="234.6" r="6.0" fill="rgb(248,66,66)"/>
<circle cx="386.7" cy="139.2" r="6.0" fill="rgb(70,66,244)"/>
<circle cx="347.5" cy="131.7" r="6.0" fill="rgb(248,66,66)"/>
<circle cx="512.4" cy="108.0" r="6.0" fill="rgb(248,66,66)"/>
<circle cx="382.3" cy="163.5" r="6.0" fill="rgb(70,66,244)"/>
<circle cx="343.3" cy="187.4" r="6.0" fill="rgb(70,66,244)"/>
<circle cx="409.1" cy="109.7" r="6.0" fill="rgb(248,66,66)"/>
<circle cx="280.8" cy="98.0" r="6.0" fill="rgb(70,66,244)"/>
<circle cx="325.3" cy="251.3" r="6.0" fill="rgb(70,66,244)"/>
<circle cx="246.6" cy="200.4" r="6.0" fill="rgb(70,66,244)"/>
<circle cx="335.1" cy="86.1" r="6.0" fill="rgb(248,66,66)"/>
<circle cx="291.4" cy="148.4" r="6.0" fill="rgb(70,66,244)"/>
<circle cx="409.4" cy="149.5" r="6.0" fill="rgb(248,66,66)"/>
<circle cx="290.9" cy="204.5" r="6.0" fill="rgb(248,66,66)"/>
<circle cx="308.1" cy="175.9" r="6.0" fill="rgb(70,66,244)"/>
<circle cx="369.9" cy="123.5" r="6.0" fill="rgb(248,66,66)"/>
<circle cx="334.4" cy="227.7" r="6.0" fill="rgb(70,66,244)"/>
<circle cx="379.9" cy="184.7" r="6.0" fill="rgb(70,66,244)"/>
<circle cx="456.0" cy="112.3" r="6.0" fill="rgb(70,66,244)"/>
<circle cx="290.8" cy="67.7" r="6.0" fill="rgb(248,66,66)"/>
<circle cx="409.6" cy="65.0" r="6.0" fill="rgb(248,66,66)"/>
<circle cx="258.0" cy="214.4" r="6.0" fill="rgb(70,66,244)"/>
<circle cx="333.4" cy="98.3" r="6.0" fill="rgb(70,66,244)"/>
<circle cx="340.2" cy="94.5" r="6.0" fill="rgb(248,66,66)"/>
<circle cx="377.7" cy="160.0" r="6.0" fill="rgb(248,66,66)"/>
<circle cx="389.9" cy="94.1" r="6.0" fill="rgb(70,66,244)"/>
<circle cx="473.4" cy="163.5" r="6.0" fill="rgb(248,66,66)"/>
<circle cx="306.9" cy="157.9" r="6.0" fill="rgb(70,66,244)"/>
<circle cx="263.6" cy="269.8" r="6.0" fill="rgb(70,66,244)"/>
<circle cx="251.2" cy="199.9" r="6.0" fill="rgb(70,66,244)"/>
<circle cx="477.7" cy="81.3" r="6.0" fill="rgb(70,66,244)"/>
<circle cx="291.7" cy="225.2" r="6.0" fill="rgb(70,66,244)"/>
<circle cx="253.7" cy="117.6" r="6.0" fill="rgb(248,66,66)"/>
<circle cx="456.9" cy="61.5" r="6.0" fill="rgb(248,66,66)"/>
<circle cx="528.9" cy="145.7" r="6.0" fill="rgb(248,66,66)"/>
<circle cx="368.4" cy="161.8" r="6.0" fill="rgb(248,66,66)"/>
<circle cx="334.4" cy="114.5" r="6.0" fill="rgb(70,66,244)"/>
<circle cx="305.4" cy="161.2" r="6.0" fill="rgb(248,66,66)"/>
<circle cx="293.0" cy="209.4" r="6.0" fill="rgb(70,66,244)"/>
<circle cx="476.9" cy="177.6" r="6.0" fill="rgb(70,66,244)"/>
<circle cx="290.8" cy="202.6" r="6.0" fill="rgb(70,66,244)"/>
<circle cx="376.4" cy="136.5" r="6.0" fill="rgb(70,66,244)"/>
<circle cx="378.9" cy="179.6" r="6.0" fill="rgb(70,66,244)"/>
<circle cx="421.8" cy="76.4" r="6.0" fill="rgb(70,66,244)"/>
<circle cx="289.0" cy="180.0" r="6.0" fill="rgb(70,66,244)"/>
<circle cx="442.7" cy="153.0" r="6.0" fill="rgb(70,66,244)"/>
<circle cx="331.2" cy="187.2" r="6.0" fill="rgb(70,66,244)"/>
<circle cx="365.8" cy="86.0" r="6.0" fill="rgb(248,66,66)"/>
<circle cx="356.1" cy="108.4" r="6.0" fill="rgb(70,66,244)"/>
<circle cx="331.2" cy="175.0" r="6.0" fill="rgb(248,66,66)"/>
<circle cx="358.2" cy="155.3" r="6.0" fill="rgb(70,66,244)"/>
<circle cx="335.6" cy="56.6" r="6.0" fill="rgb(248,66,66)"/>
<circle cx="247.4" cy="175.0" r="6.0" fill="rgb(70,66,244)"/>
<circle cx="320.5" cy="195.0" r="6.0" fill="rgb(248,66,66)"/>
<circle cx="335.8" cy="172.0" r="6.0" fill="rgb(70,66,244)"/>
<circle cx="406.0" cy="102.8" r="6.0" fill="rgb(248,66,66)"/>
<circle cx="362.9" cy="169.9" r="6.0" fill="rgb(248,66,66)"/>
<circle cx="335.5" cy="148.5" r="6.0" fill="rgb(70,66,244)"/>
<circle cx="442.7" cy="163.5" r="6.0" fill="rgb(70,66,244)"/>
<circle cx="378.0" cy="148.9" r="6.0" fill="rgb(248,66,66)"/>
<circle cx="254.7" cy="188.2" r="6.0" fill="rgb(70,66,244)"/>
<circle cx="285.1" cy="226.5" r="6.0" fill="rgb(70,66,244)"/>
<circle cx="367.9" cy="146.9" r="6.0" fill="rgb(248,66,66)"/>
<circle cx="355.9" cy="170.4" r="6.0" fill="rgb(248,66,66)"/>
<circle cx="358.7" cy="113.0" r="6.0" fill="rgb(248,66,66)"/>
<circle cx="372.6" cy="92.2" r="6.0" fill="rgb(70,66,244)"/>
<circle cx="398.9" cy="243.4" r="6.0" fill="rgb(248,66,66)"/>
<circle cx="258.2" cy="182.3" r="6.0" fill="rgb(70,66,244)"/>
<circle cx="309.6" cy="240.8" r="6.0" fill="rgb(248,66,66)"/>
<circle cx="262.2" cy="182.2" r="6.0" fill="rgb(70,66,244)"/>
<circle cx="404.6" cy="189.7" r="6.0" fill="rgb(248,66,66)"/>
<circle cx="483.2" cy="138.5" r="6.0" fill="rgb(248,66,66)"/>
<circle cx="342.2" cy="181.0" r="6.0" fill="rgb(248,66,66)"/>
<circle cx="458.5" cy="139.5" r="6.0" fill="rgb(248,66,66)"/>
<circle cx="371.0" cy="83.4" r="6.0" fill="rgb(248,66,66)"/>
<circle cx="436.6" cy="135.5" r="6.0" fill="rgb(248,66,66)"/>
<circle cx="376.3" cy="75.5" r="6.0" fill="rgb(70,66,244)"/>
<circle cx="369.2" cy="196.4" r="6.0" fill="rgb(248,66,66)"/>
<circle cx="278.9" cy="145.6" r="6.0" fill="rgb(70,66,244)"/>
<circle cx="282.6" cy="123.7" r="6.0" fill="rgb(70,66,244)"/>
<circle cx="425.4" cy="175.5" r="6.0" fill="rgb(248,66,66)"/>
<circle cx="212.8" cy="331.3" r="6.0" fill="rgb(248,66,66)"/>
<circle cx="365.0" cy="122.4" r="6.0" fill="rgb(248,66,66)"/>
<circle cx="379.3" cy="141.5" r="6.0" fill="rgb(248,66,66)"/>
<circle cx="366.6" cy="72.0" r="6.0" fill="rgb(70,66,244)"/>
<circle cx="300.7" cy="153.0" r="6.0" fill="rgb(70,66,244)"/>
<circle cx="500.2" cy="181.9" r="6.0" fill="rgb(70,66,244)"/>
<circle cx="454.1" cy="183.7" r="6.0" fill="rgb(248,66,66)"/>
<circle cx="310.2" cy="120.2" r="6.0" fill="rgb(70,66,244)"/>
<circle cx="375.0" cy="129.9" r="6.0" fill="rgb(70,66,244)"/>
<circle cx="464.9" cy="153.8" r="6.0" fill="rgb(248,66,66)"/>
<circle cx="289.1" cy="133.2" r="6.0" fill="rgb(70,66,244)"/>
<circle cx="432.3" cy="99.2" r="6.0" fill="rgb(70,66,244)"/>
<circle cx="347.6" cy="189.4" r="6.0" fill="rgb(248,66,66)"/>
<circle cx="384.7" cy="49.3" r="6.0" fill="rgb(70,66,244)"/>
<circle cx="351.7" cy="201.6" r="6.0" fill="rgb(70,66,244)"/>
<circle cx="335.1" cy="134.0" r="6.0" fill="rgb(248,66,66)"/>
<circle cx="404.2" cy="253.0" r="6.0" fill="rgb(248,66,66)"/>
<circle cx="373.7" cy="78.2" r="6.0" fill="rgb(248,66,66)"/>
<circle cx="480.4" cy="186.3" r="6.0" fill="rgb(248,66,66)"/>
<circle cx="320.4" cy="215.4" r="6.0" fill="rgb(248,66,66)"/>
<circle cx="410.3" cy="209.1" r="6.0" fill="rgb(70,66,244)"/>
<circle cx="243.9" cy="220.4" r="6.0" fill="rgb(70,66,244)"/>
<circle cx="346.3" cy="161.8" r="6.0" fill="rgb(248,66,66)"/>
<circle cx="375.3" cy="174.0" r="6.0" fill="rgb(70,66,244)"/>
<circle cx="444.4" cy="138.5" r="6.0" fill="rgb(248,66,66)"/>
<circle cx="311.9" cy="226.7" r="6.0" fill="rgb(70,66,244)"/>
<circle cx="437.3" cy="116.0" r="6.0" fill="rgb(248,66,66)"/>
<circle cx="511.5" cy="156.5" r="6.0" fill="rgb(70,66,244)"/>
<circle cx="424.3" cy="172.3" r="6.0" fill="rgb(70,66,244)"/>
<circle cx="350.4" cy="142.6" r="6.0" fill="rgb(70,66,244)"/>
<circle cx="565.5" cy="155.5" r="6.0" fill="rgb(70,66,244)"/>
<circle cx="374.4" cy="184.8" r="6.0" fill="rgb(248,66,66)"/>
<circle cx="447.6" cy="42.6" r="6.0" fill="rgb(248,66,66)"/>
<circle cx="498.0" cy="120.2" r="6.0" fill="rgb(248,66,66)"/>
<circle cx="449.3" cy="55.9" r="6.0" fill="rgb(248,66,66)"/>
<circle cx="352.7" cy="111.3" r="6.0" fill="rgb(70,66,244)"/>
<circle cx="320.7" cy="166.7" r="6.0" fill="rgb(70,66,244)"/>
<circle cx="394.0" cy="153.5" r="6.0" fill="rgb(70,66,244)"/>
<circle cx="307.2" cy="194.0" r="6.0" fill="rgb(70,66,244)"/>
<circle cx="343.8" cy="174.1" r="6.0" fill="rgb(248,66,66)"/>
<circle cx="267.4" cy="154.2" r="6.0" fill="rgb(70,66,244)"/>
<circle cx="487.5" cy="121.1" r="6.0" fill="rgb(248,66,66)"/>
<circle cx="379.6" cy="273.7" r="6.0" fill="rgb(248,66,66)"/>
<circle cx="322.1" cy="151.0" r="6.0" fill="rgb(248,66,66)"/>
<circle cx="342.2" cy="132.9" r="6.0" fill="rgb(70,66,244)"/>
<circle cx="412.0" cy="172.3" r="6.0" fill="rgb(70,66,244)"/>
<circle cx="354.9" cy="165.6" r="6.0" fill="rgb(70,66,244)"/>
<circle cx="375.9" cy="101.3" r="6.0" fill="rgb(248,66,66)"/>
<circle cx="343.9" cy="83.4" r="6.0" fill="rgb(248,66,66)"/>
<circle cx="420.0" cy="178.2" r="6.0" fill="rgb(248,66,66)"/>
<circle cx="388.2" cy="137.6" r="6.0" fill="rgb(248,66,66)"/>
<circle cx="429.6" cy="211.7" r="6.0" fill="rgb(70,66,244)"/>
<circle cx="287.7" cy="168.0" r="6.0" fill="rgb(70,66,244)"/>
<circle cx="312.3" cy="136.0" r="6.0" fill="rgb(248,66,66)"/>
<circle cx="347.6" cy="174.5" r="6.0" fill="rgb(70,66,244)"/>
<circle cx="370.5" cy="95.3" r="6.0" fill="rgb(70,66,244)"/>
<circle cx="376.0" cy="184.5" r="6.0" fill="rgb(70,66,244)"/>
<circle cx="349.4" cy="132.9" r="6.0" fill="rgb(248,66,66)"/>
<circle cx="367.4" cy="262.7" r="6.0" fill="rgb(70,66,244)"/>
<circle cx="375.6" cy="99.8" r="6.0" fill="rgb(70,66,244)"/>
<circle cx="459.3" cy="185.4" r="6.0" fill="rgb(248,66,66)"/>
<circle cx="397.8" cy="109.8" r="6.0" fill="rgb(70,66,244)"/>
<circle cx="351.4" cy="188.9" r="6.0" fill="rgb(248,66,66)"/>
<circle cx="360.9" cy="96.7" r="6.0" fill="rgb(70,66,244)"/>
<circle cx="318.9" cy="174.0" r="6.0" fill="rgb(248,66,66)"/>
<circle cx="384.0" cy="130.3" r="6.0" fill="rgb(70,66,244)"/>
<circle cx="361.2" cy="236.0" r="6.0" fill="rgb(70,66,244)"/>
<circle cx="341.6" cy="132.2" r="6.0" fill="rgb(248,66,66)"/>
<circle cx="314.7" cy="132.0" r="6.0" fill="rgb(248,66,66)"/>
<circle cx="269.9" cy="226.7" r="6.0" fill="rgb(70,66,244)"/>
<circle cx="387.5" cy="177.6" r="6.0" fill="rgb(70,66,244)"/>
<circle cx="255.2" cy="178.7" r="6.0" fill="rgb(70,66,244)"/>
<circle cx="266.1" cy="173.2" r="6.0" fill="rgb(70,66,244)"/>
<circle cx="252.3" cy="226.7" r="6.0" fill="rgb(248,66,66)"/>
<circle cx="209.7" cy="215.7" r="6.0" fill="rgb(70,66,244)"/>
<circle cx="462.9" cy="171.4" r="6.0" fill="rgb(70,66,244)"/>
<circle cx="400.3" cy="183.1" r="6.0" fill="rgb(70,66,244)"/>
<circle cx="240.9" cy="133.8" r="6.0" fill="rgb(70,66,244)"/>
<circle cx="444.6" cy="86.0" r="6.0" fill="rgb(248,66,66)"/>
<circle cx="460.2" cy="100.6" r="6.0" fill="rgb(248,66,66)"/>
<circle cx="384.9" cy="140.9" r="6.0" fill="rgb(70,66,244)"/>
<circle cx="412.0" cy="188.1" r="6.0" fill="rgb(248,66,66)"/>
<circle cx="242.1" cy="230.1" r="6.0" fill="rgb(248,66,66)"/>
<circle cx="281.9" cy="75.9" r="6.0" fill="rgb(248,66,66)"/>
<circle cx="413.8" cy="142.5" r="6.0" fill="rgb(70,66,244)"/>
<circle cx="320.4" cy="130.7" r="6.0" fill="rgb(70,66,244)"/>
<circle cx="364.9" cy="94.0" r="6.0" fill="rgb(70,66,244)"/>
<circle cx="380.2" cy="168.2" r="6.0" fill="rgb(248,66,66)"/>
<circle cx="316.9" cy="337.0" r="6.0" fill="rgb(70,66,244)"/>
<circle cx="344.8" cy="151.7" r="6.0" fill="rgb(248,66,66)"/>
<circle cx="285.5" cy="148.4" r="6.0" fill="rgb(70,66,244)"/>
<circle cx="326.5" cy="161.5" r="6.0" fill="rgb(70,66,244)"/>
<circle cx="377.9" cy="92.0" r="6.0" fill="rgb(70,66,244)"/>
<circle cx="367.0" cy="112.0" r="6.0" fill="rgb(248,66,66)"/>
<circle cx="420.7" cy="126.1" r="6.0" fill="rgb(70,66,244)"/>
<circle cx="345.4" cy="183.2" r="6.0" fill="rgb(248,66,66)"/>
<circle cx="360.0" cy="89.0" r="6.0" fill="rgb(248,66,66)"/>
<circle cx="422.6" cy="160.0" r="6.0" fill="rgb(248,66,66)"/>
<circle cx="323.3" cy="244.0" r="6.0" fill="rgb(70,66,244)"/>
<circle cx="240.2" cy="185.8" r="6.0" fill="rgb(248,66,66)"/>
<circle cx="483.9" cy="171.4" r="6.0" fill="rgb(70,66,244)"/>
<circle cx="382.4" cy="53.7" r="6.0" fill="rgb(248,66,66)"/>
<circle cx="369.9" cy="118.2" r="6.0" fill="rgb(248,66,66)"/>
<circle cx="335.5" cy="133.5" r="6.0" fill="rgb(70,66,244)"/>
<circle cx="581.1" cy="160.4" r="6.0" fill="rgb(248,66,66)"/>
<circle cx="319.0" cy="166.5" r="6.0" fill="rgb(70,66,244)"/>
<circle cx="338.5" cy="285.4" r="6.0" fill="rgb(248,66,66)"/>
<circle cx="332.7" cy="135.7" r="6.0" fill="rgb(70,66,244)"/>
<circle cx="358.8" cy="123.5" r="6.0" fill="rgb(70,66,244)"/>
<circle cx="371.9" cy="160.1" r="6.0" fill="rgb(248,66,66)"/>
<circle cx="549.7" cy="129.9" r="6.0" fill="rgb(248,66,66)"/>
<circle cx="524.5" cy="184.6" r="6.0" fill="rgb(248,66,66)"/>
<circle cx="471.6" cy="146.0" r="6.0" fill="rgb(70,66,244)"/>
<circle cx="305.3" cy="266.3" r="6.0" fill="rgb(70,66,244)"/>
<circle cx="368.2" cy="86.6" r="6.0" fill="rgb(248,66,66)"/>
<circle cx="369.6" cy="86.8" r="6.0" fill="rgb(70,66,244)"/>
<circle cx="294.8" cy="108.0" r="6.0" fill="rgb(70,66,244)"/>
<circle cx="469.0" cy="190.7" r="6.0" fill="rgb(248,66,66)"/>
<circle cx="449.0" cy="74.5" r="6.0" fill="rgb(248,66,66)"/>
<circle cx="401.8" cy="95.9" r="6.0" fill="rgb(248,66,66)"/>
<circle cx="338.1" cy="162.5" r="6.0" fill="rgb(70,66,244)"/>
<circle cx="258.7" cy="144.9" r="6.0" fill="rgb(70,66,244)"/>
<circle cx="357.7" cy="203.4" r="6.0" fill="rgb(248,66,66)"/>
<circle cx="342.2" cy="153.8" r="6.0" fill="rgb(70,66,244)"/>
<circle cx="370.0" cy="294.3" r="6.0" fill="rgb(70,66,244)"/>
<circle cx="445.5" cy="71.2" r="6.0" fill="rgb(248,66,66)"/>
<circle cx="288.0" cy="165.0" r="6.0" fill="rgb(70,66,244)"/>
<circle cx="350.4" cy="131.7" r="6.0" fill="rgb(70,66,244)"/>
<circle cx="408.4" cy="77.7" r="6.0" fill="rgb(248,66,66)"/>
<circle cx="306.4" cy="157.2" r="6.0" fill="rgb(248,66,66)"/>
<circle cx="382.9" cy="138.6" r="6.0" fill="rgb(248,66,66)"/>
<circle cx="290.1" cy="186.9" r="6.0" fill="rgb(70,66,244)"/>
<circle cx="295.5" cy="195.2" r="6.0" fill="rgb(70,66,244)"/>
<circle cx="406.0" cy="140.9" r="6.0" fill="rgb(248,66,66)"/>
<circle cx="407.1" cy="131.7" r="6.0" fill="rgb(70,66,244)"/>
<circle cx="300.2" cy="188.2" r="6.0" fill="rgb(70,66,244)"/>
<circle cx="371.1" cy="220.7" r="6.0" fill="rgb(70,66,244)"/>
<circle cx="255.6" cy="170.0" r="6.0" fill="rgb(248,66,66)"/>
<circle cx="284.4" cy="209.4" r="6.0" fill="rgb(248,66,66)"/>
<circle cx="370.3" cy="196.9" r="6.0" fill="rgb(70,66,244)"/>
<circle cx="339.1" cy="113.5" r="6.0" fill="rgb(248,66,66)"/>
<circle cx="261.9" cy="290.2" r="6.0" fill="rgb(70,66,244)"/>
<circle cx="291.3" cy="122.0" r="6.0" fill="rgb(70,66,244)"/>
<circle cx="346.7" cy="145.9" r="6.0" fill="rgb(70,66,244)"/>
<circle cx="261.0" cy="133.8" r="6.0" fill="rgb(248,66,66)"/>
<circle cx="385.0" cy="99.2" r="6.0" fill="rgb(248,66,66)"/>
<circle cx="485.6" cy="142.5" r="6.0" fill="rgb(248,66,66)"/>
<circle cx="320.0" cy="181.2" r="6.0" fill="rgb(70,66,244)"/>
<circle cx="412.4" cy="272.8" r="6.0" fill="rgb(248,66,66)"/>
<circle cx="321.0" cy="167.1" r="6.0" fill="rgb(248,66,66)"/>
<circle cx="316.2" cy="186.0" r="6.0" fill="rgb(70,66,244)"/>
<circle cx="351.0" cy="163.0" r="6.0" fill="rgb(70,66,244)"/>
<circle cx="311.9" cy="171.0" r="6.0" fill="rgb(70,66,244)"/>
<circle cx="337.0" cy="250.5" r="6.0" fill="rgb(70,66,244)"/>
<circle cx="379.3" cy="116.3" r="6.0" fill="rgb(248,66,66)"/>
<circle cx="351.8" cy="146.1" r="6.0" fill="rgb(70,66,244)"/>
<circle cx="342.9" cy="251.3" r="6.0" fill="rgb(70,66,244)"/>
<circle cx="442.0" cy="80.8" r="6.0" fill="rgb(248,66,66)"/>
<circle cx="423.4" cy="202.1" r="6.0" fill="rgb(70,66,244)"/>
<circle cx="455.0" cy="128.0" r="6.0" fill="rgb(248,66,66)"/>
<circle cx="423.1" cy="138.0" r="6.0" fill="rgb(248,66,66)"/>
<circle cx="346.6" cy="188.2" r="6.0" fill="rgb(248,66,66)"/>
<circle cx="480.5" cy="130.0" r="6.0" fill="rgb(248,66,66)"/>
<circle cx="342.7" cy="109.3" r="6.0" fill="rgb(248,66,66)"/>
<circle cx="336.9" cy="93.0" r="6.0" fill="rgb(248,66,66)"/>
<circle cx="444.4" cy="117.6" r="6.0" fill="rgb(70,66,244)"/>
<circle cx="378.4" cy="183.8" r="6.0" fill="rgb(70,66,244)"/>
<circle cx="315.4" cy="198.7" r="6.0" fill="rgb(248,66,66)"/>
<circle cx="389.0" cy="83.9" r="6.0" fill="rgb(70,66,244)"/>
<circle cx="423.6" cy="85.2" r="6.0" fill="rgb(70,66,244)"/>
<circle cx="297.9" cy="208.0" r="6.0" fill="rgb(248,66,66)"/>
<circle cx="373.0" cy="84.8" r="6.0" fill="rgb(70,66,244)"/>
<circle cx="297.8" cy="204.9" r="6.0" fill="rgb(70,66,244)"/>
<circle cx="432.2" cy="101.5" r="6.0" fill="rgb(248,66,66)"/>
<circle cx="388.1" cy="127.4" r="6.0" fill="rgb(248,66,66)"/>
<circle cx="327.5" cy="182.4" r="6.0" fill="rgb(248,66,66)"/>
<circle cx="303.9" cy="211.1" r="6.0" fill="rgb(70,66,244)"/>
<circle cx="443.5" cy="149.0" r="6.0" fill="rgb(248,66,66)"/>
<circle cx="381.5" cy="95.7" r="6.0" fill="rgb(70,66,244)"/>
<circle cx="314.1" cy="156.4" r="6.0" fill="rgb(70,66,244)"/>
<circle cx="232.1" cy="294.3" r="6.0" fill="rgb(70,66,244)"/>
<circle cx="316.1" cy="187.1" r="6.0" fill="rgb(248,66,66)"/>
<circle cx="291.3" cy="96.2" r="6.0" fill="rgb(248,66,66)"/>
<circle cx="418.9" cy="75.9" r="6.0" fill="rgb(248,66,66)"/>
<circle cx="626.3" cy="138.8" r="6.0" fill="rgb(248,66,66)"/>
<circle cx="338.7" cy="119.8" r="6.0" fill="rgb(248,66,66)"/>
<circle cx="321.7" cy="166.2" r="6.0" fill="rgb(70,66,244)"/>
<circle cx="306.3" cy="175.3" r="6.0" fill="rgb(70,66,244)"/>
<circle cx="378.1" cy="115.6" r="6.0" fill="rgb(70,66,244)"/>
<circle cx="376.4" cy="209.2" r="6.0" fill="rgb(70,66,244)"/>
<circle cx="418.2" cy="246.0" r="6.0" fill="rgb(248,66,66)"/>
<circle cx="346.6" cy="133.8" r="6.0" fill="rgb(70,66,244)"/>
<circle cx="339.3" cy="140.6" r="6.0" fill="rgb(248,66,66)"/>
<circle cx="420.0" cy="97.4" r="6.0" fill="rgb(70,66,244)"/>
</g>
<g>
<polygon points="324.0,157.0 345.0,157.0 334.5,177.6" fill="#000"/><polygon points="326.3,158.5 334.3,158.5 334.3,173.5" fill="#04f414"/>
<polygon points="233.8,265.3 255.4,265.3 244.6,285.0" fill="#000"/><polygon points="236.1,266.8 244.4,266.8 244.4,280.9" fill="#04f414"/>
<polygon points="387.91,122.25 402.49,122.25 395.20,109.42" fill="#ffff00" stroke="#000" stroke-width="2.1" stroke-linejoin="miter"/>
<polygon points="384.21,113.15 398.79,113.15 391.50,100.32" fill="#ffff00" stroke="#000" stroke-width="2.1" stroke-linejoin="miter"/>
<polygon points="299.21,183.55 313.79,183.55 306.50,170.72" fill="#ffff00" stroke="#000" stroke-width="2.1" stroke-linejoin="miter"/>
<polygon points="317.21,154.35 331.79,154.35 324.50,141.52" fill="#ffff00" stroke="#000" stroke-width="2.1" stroke-linejoin="miter"/>
<polygon points="317.21,157.55 331.79,157.55 324.50,144.72" fill="#ffff00" stroke="#000" stroke-width="2.1" stroke-linejoin="miter"/>
<polygon points="330.71,211.55 345.29,211.55 338.00,198.72" fill="#ffff00" stroke="#000" stroke-width="2.1" stroke-linejoin="miter"/>
<polygon points="333.01,216.25 347.59,216.25 340.30,203.42" fill="#ffff00" stroke="#000" stroke-width="2.1" stroke-linejoin="miter"/>
<polygon points="343.51,227.75 358.09,227.75 350.80,214.92" fill="#ffff00" stroke="#000" stroke-width="2.1" stroke-linejoin="miter"/>
<polygon points="349.31,233.35 363.89,233.35 356.60,220.52" fill="#ffff00" stroke="#000" stroke-width="2.1" stroke-linejoin="miter"/>
<polygon points="238.91,253.25 253.49,253.25 246.20,240.42" fill="#ffff00" stroke="#000" stroke-width="2.1" stroke-linejoin="miter"/>
<polygon points="264.01,264.15 278.59,264.15 271.30,251.32" fill="#ffff00" stroke="#000" stroke-width="2.1" stroke-linejoin="miter"/>
<polygon points="251.61,129.25 266.19,129.25 258.90,116.42" fill="#ffff00" stroke="#000" stroke-width="2.1" stroke-linejoin="miter"/>
<polygon points="329.61,113.15 344.19,113.15 336.90,100.32" fill="#ffff00" stroke="#000" stroke-width="2.1" stroke-linejoin="miter"/>
<polygon points="333.31,122.55 347.89,122.55 340.60,109.72" fill="#ffff00" stroke="#000" stroke-width="2.1" stroke-linejoin="miter"/>
<polygon points="329.71,137.45 344.29,137.45 337.00,124.62" fill="#ffff00" stroke="#000" stroke-width="2.1" stroke-linejoin="miter"/>
<polygon points="404.99,86.40 420.01,86.40 412.50,72.91" fill="#ffff00" stroke="#000" stroke-width="2.1" stroke-linejoin="miter"/>
<polygon points="397.91,100.95 412.49,100.95 405.20,88.12" fill="#ffff00" stroke="#000" stroke-width="2.1" stroke-linejoin="miter"/>
<polygon points="377.71,119.25 392.29,119.25 385.00,106.42" fill="#ffff00" stroke="#000" stroke-width="2.1" stroke-linejoin="miter"/>
<polygon points="417.21,118.45 431.79,118.45 424.50,105.62" fill="#ffff00" stroke="#000" stroke-width="2.1" stroke-linejoin="miter"/>
<polygon points="411.21,132.25 425.79,132.25 418.50,119.42" fill="#ffff00" stroke="#000" stroke-width="2.1" stroke-linejoin="miter"/>
<polygon points="366.91,141.75 381.49,141.75 374.20,128.92" fill="#ffff00" stroke="#000" stroke-width="2.1" stroke-linejoin="miter"/>
<polygon points="246.91,160.45 261.49,160.45 254.20,147.62" fill="#ffff00" stroke="#000" stroke-width="2.1" stroke-linejoin="miter"/>
<polygon points="293.81,148.65 308.39,148.65 301.10,135.82" fill="#ffff00" stroke="#000" stroke-width="2.1" stroke-linejoin="miter"/>
<polygon points="317.81,144.65 332.39,144.65 325.10,131.82" fill="#ffff00" stroke="#000" stroke-width="2.1" stroke-linejoin="miter"/>
<polygon points="328.61,157.05 343.19,157.05 335.90,144.22" fill="#ffff00" stroke="#000" stroke-width="2.1" stroke-linejoin="miter"/>
<polygon points="264.41,174.05 278.99,174.05 271.70,161.22" fill="#ffff00" stroke="#000" stroke-width="2.1" stroke-linejoin="miter"/>
<polygon points="267.51,184.65 282.09,184.65 274.80,171.82" fill="#ffff00" stroke="#000" stroke-width="2.1" stroke-linejoin="miter"/>
<polygon points="276.91,192.15 291.49,192.15 284.20,179.32" fill="#ffff00" stroke="#000" stroke-width="2.1" stroke-linejoin="miter"/>
<polygon points="299.21,179.45 313.79,179.45 306.50,166.62" fill="#ffff00" stroke="#000" stroke-width="2.1" stroke-linejoin="miter"/>
<polygon points="318.11,194.45 332.69,194.45 325.40,181.62" fill="#ffff00" stroke="#000" stroke-width="2.1" stroke-linejoin="miter"/>
<polygon points="342.71,181.95 357.29,181.95 350.00,169.12" fill="#ffff00" stroke="#000" stroke-width="2.1" stroke-linejoin="miter"/>
<polygon points="333.01,201.95 347.59,201.95 340.30,189.12" fill="#ffff00" stroke="#000" stroke-width="2.1" stroke-linejoin="miter"/>
<polygon points="353.81,191.25 368.39,191.25 361.10,178.42" fill="#ffff00" stroke="#000" stroke-width="2.1" stroke-linejoin="miter"/>
<polygon points="362.71,191.75 377.29,191.75 370.00,178.92" fill="#ffff00" stroke="#000" stroke-width="2.1" stroke-linejoin="miter"/>
<polygon points="304.81,221.25 319.39,221.25 312.10,208.42" fill="#ffff00" stroke="#000" stroke-width="2.1" stroke-linejoin="miter"/>
<polygon points="316.71,222.15 331.29,222.15 324.00,209.32" fill="#ffff00" stroke="#000" stroke-width="2.1" stroke-linejoin="miter"/>
<polygon points="341.11,214.15 355.69,214.15 348.40,201.32" fill="#ffff00" stroke="#000" stroke-width="2.1" stroke-linejoin="miter"/>
<polygon points="360.51,225.15 375.09,225.15 367.80,212.32" fill="#ffff00" stroke="#000" stroke-width="2.1" stroke-linejoin="miter"/>
<polygon points="351.31,226.15 365.89,226.15 358.60,213.32" fill="#ffff00" stroke="#000" stroke-width="2.1" stroke-linejoin="miter"/>
<polygon points="321.81,237.15 336.39,237.15 329.10,224.32" fill="#ffff00" stroke="#000" stroke-width="2.1" stroke-linejoin="miter"/>
<polygon points="285.51,239.75 300.09,239.75 292.80,226.92" fill="#ffff00" stroke="#000" stroke-width="2.1" stroke-linejoin="miter"/>
<polygon points="268.71,242.95 283.29,242.95 276.00,230.12" fill="#ffff00" stroke="#000" stroke-width="2.1" stroke-linejoin="miter"/>
<polygon points="246.21,244.45 260.79,244.45 253.50,231.62" fill="#ffff00" stroke="#000" stroke-width="2.1" stroke-linejoin="miter"/>
<polygon points="419.61,149.25 434.19,149.25 426.90,136.42" fill="#ffff00" stroke="#000" stroke-width="2.1" stroke-linejoin="miter"/>
<polygon points="393.32,184.00 408.68,184.00 401.00,170.65" fill="#ffff00" stroke="#000" stroke-width="2.1" stroke-linejoin="miter"/>
<polygon points="382.51,228.25 397.09,228.25 389.80,215.42" fill="#ffff00" stroke="#000" stroke-width="2.1" stroke-linejoin="miter"/>
<polygon points="217.81,229.45 232.39,229.45 225.10,216.62" fill="#ffff00" stroke="#000" stroke-width="2.1" stroke-linejoin="miter"/>
<polygon points="211.21,247.55 225.79,247.55 218.50,234.72" fill="#ffff00" stroke="#000" stroke-width="2.1" stroke-linejoin="miter"/>
<polygon points="228.26,244.85 241.94,244.85 235.10,232.82" fill="#ffff00" stroke="#000" stroke-width="2.1" stroke-linejoin="miter"/>
<polygon points="216.01,268.95 230.59,268.95 223.30,256.12" fill="#ffff00" stroke="#000" stroke-width="2.1" stroke-linejoin="miter"/>
<polygon points="204.11,291.00 219.49,291.00 211.80,277.47" fill="#ffff00" stroke="#000" stroke-width="2.1" stroke-linejoin="miter"/>
<polygon points="226.11,287.65 240.69,287.65 233.40,274.82" fill="#ffff00" stroke="#000" stroke-width="2.1" stroke-linejoin="miter"/>
<polygon points="207.50,340.20 223.10,340.20 215.30,326.48" fill="#ffff00" stroke="#000" stroke-width="2.1" stroke-linejoin="miter"/>
<polygon points="247.31,254.95 261.89,254.95 254.60,242.12" fill="#ffff00" stroke="#000" stroke-width="2.1" stroke-linejoin="miter"/>
<polygon points="259.31,257.25 273.89,257.25 266.60,244.42" fill="#ffff00" stroke="#000" stroke-width="2.1" stroke-linejoin="miter"/>
<polygon points="249.11,274.75 263.69,274.75 256.40,261.92" fill="#ffff00" stroke="#000" stroke-width="2.1" stroke-linejoin="miter"/>
<polygon points="269.11,261.15 283.69,261.15 276.40,248.32" fill="#ffff00" stroke="#000" stroke-width="2.1" stroke-linejoin="miter"/>
<polygon points="287.41,258.55 301.99,258.55 294.70,245.72" fill="#ffff00" stroke="#000" stroke-width="2.1" stroke-linejoin="miter"/>
<polygon points="318.71,168.05 327.49,168.05 323.10,160.74" fill="#ffff00" stroke="#000" stroke-width="2.1" stroke-linejoin="miter"/>
<polygon points="322.53,176.95 332.87,176.95 327.70,169.62" fill="#ffff00" stroke="#000" stroke-width="2.1" stroke-linejoin="miter"/>
</g>
<polygon points="361.80,147.78 366.05,159.15 378.18,159.68 368.68,167.23 371.92,178.93 361.80,172.23 351.68,178.93 354.92,167.23 345.42,159.68 357.55,159.15" fill="#ff00ff" stroke="#ffff00" stroke-width="2.2" stroke-linejoin="miter"/>
<rect x="69.8" y="7.8" width="601.6" height="507.2" fill="none" stroke="#000" stroke-width="1.9"/>
<path d="M119.9,515.0v-5.6M119.9,7.8v5.6M170.1,515.0v-10.4M170.1,7.8v10.4M220.2,515.0v-5.6M220.2,7.8v5.6M270.3,515.0v-10.4M270.3,7.8v10.4M320.5,515.0v-5.6M320.5,7.8v5.6M370.6,515.0v-10.4M370.6,7.8v10.4M420.7,515.0v-5.6M420.7,7.8v5.6M470.9,515.0v-10.4M470.9,7.8v10.4M521.0,515.0v-5.6M521.0,7.8v5.6M571.1,515.0v-10.4M571.1,7.8v10.4M621.3,515.0v-5.6M621.3,7.8v5.6M69.8,464.3h5.6M671.4,464.3h-5.6M69.8,413.6h10.4M671.4,413.6h-10.4M69.8,362.8h5.6M671.4,362.8h-5.6M69.8,312.1h10.4M671.4,312.1h-10.4M69.8,261.4h5.6M671.4,261.4h-5.6M69.8,210.7h10.4M671.4,210.7h-10.4M69.8,160.0h5.6M671.4,160.0h-5.6M69.8,109.2h10.4M671.4,109.2h-10.4M69.8,58.5h5.6M671.4,58.5h-5.6" stroke="#000" stroke-width="1.5" fill="none"/>
<text x="64.8" y="542.6" font-size="19" textLength="9.9" lengthAdjust="spacingAndGlyphs">0</text>
<text x="157.7" y="542.6" font-size="19" textLength="24.8" lengthAdjust="spacingAndGlyphs">0.2</text>
<text x="257.9" y="542.6" font-size="19" textLength="24.8" lengthAdjust="spacingAndGlyphs">0.4</text>
<text x="358.2" y="542.6" font-size="19" textLength="24.8" lengthAdjust="spacingAndGlyphs">0.6</text>
<text x="458.5" y="542.6" font-size="19" textLength="24.8" lengthAdjust="spacingAndGlyphs">0.8</text>
<path d="M571.35,529.50 L573.10,529.50 L573.10,542.80 L571.35,542.80 L571.35,533.50 L568.15,533.50 L568.15,532.20 Q570.95,532.00 571.70,529.50 Z" fill="#000"/>
<text x="659.0" y="542.6" font-size="19" textLength="24.8" lengthAdjust="spacingAndGlyphs">1.2</text>
<text x="48.9" y="521.4" font-size="19" textLength="9.9" lengthAdjust="spacingAndGlyphs">0</text>
<text x="34.0" y="420.0" font-size="19" textLength="24.8" lengthAdjust="spacingAndGlyphs">0.2</text>
<text x="34.0" y="318.5" font-size="19" textLength="24.8" lengthAdjust="spacingAndGlyphs">0.4</text>
<text x="34.0" y="217.1" font-size="19" textLength="24.8" lengthAdjust="spacingAndGlyphs">0.6</text>
<text x="34.0" y="115.6" font-size="19" textLength="24.8" lengthAdjust="spacingAndGlyphs">0.8</text>
<path d="M53.55,0.70 L55.30,0.70 L55.30,14.00 L53.55,14.00 L53.55,4.70 L50.35,4.70 L50.35,3.40 Q53.15,3.20 53.90,0.70 Z" fill="#000"/>
<g font-style="italic">
<text x="352.3" y="578.3" font-size="24">t</text>
<line x1="360.8" y1="579.6" x2="377.8" y2="559.6" stroke="#000" stroke-width="1.5"/>
<text x="373.6" y="578.3" font-size="22">a</text>
<text x="386.6" y="585.6" font-size="17" textLength="6.6" lengthAdjust="spacingAndGlyphs">f</text>
<g transform="translate(19.3,285) rotate(-90)">
<text x="0" y="0" font-size="23.5">b</text>
<text x="13.2" y="6.7" font-size="17" textLength="6.8" lengthAdjust="spacingAndGlyphs">f</text>
<line x1="16.5" y1="6.2" x2="36.2" y2="-19.3" stroke="#000" stroke-width="1.5"/>
<text x="31.0" y="0" font-size="23.5">a</text>
<text x="44.0" y="6.7" font-size="17" textLength="6.8" lengthAdjust="spacingAndGlyphs">f</text>
</g></g>
<rect x="165.5" y="438" width="488.6" height="65.6" fill="#fff" stroke="#808080" stroke-width="1.2"/>
<circle cx="185.8" cy="454.6" r="4.2" fill="rgb(248,66,66)" fill-opacity="0.45"/>
<circle cx="185.8" cy="469.2" r="4.2" fill="rgb(70,66,244)" fill-opacity="0.45"/>
<polygon points="186.00,481.34 188.36,487.65 195.09,487.95 189.82,492.14 191.62,498.63 186.00,494.92 180.38,498.63 182.18,492.14 176.91,487.95 183.64,487.65" fill="#ff00ff" stroke="#ffff00" stroke-width="1.6" stroke-linejoin="miter"/>
<text x="203" y="458.5" font-size="14">: A</text>
<text x="203" y="473.7" font-size="14">: C</text>
<text x="202.7" y="494.8" font-size="14" textLength="194.5" lengthAdjust="spacingAndGlyphs">: Mean point of Ryugu grains</text>
<polygon points="425.43,458.95 435.57,458.95 430.50,450.55" fill="#ffff00" stroke="#000" stroke-width="1.5" stroke-linejoin="miter"/>
<polygon points="422.8,468.4 437.8,468.4 430.3,481.2" fill="#000"/><polygon points="424.8,469.5 430.4,469.5 430.4,477.4" fill="#04f414"/>
<text x="446.8" y="457.5" font-size="14" textLength="109.5" lengthAdjust="spacingAndGlyphs">: Flying particles</text>
<text x="446.8" y="476.2" font-size="14" textLength="147.5" lengthAdjust="spacingAndGlyphs">: Distribution peaks of</text>
<text x="540.5" y="495" font-size="14" textLength="96.7" lengthAdjust="spacingAndGlyphs">Flying partices</text>
</svg></body></html>
